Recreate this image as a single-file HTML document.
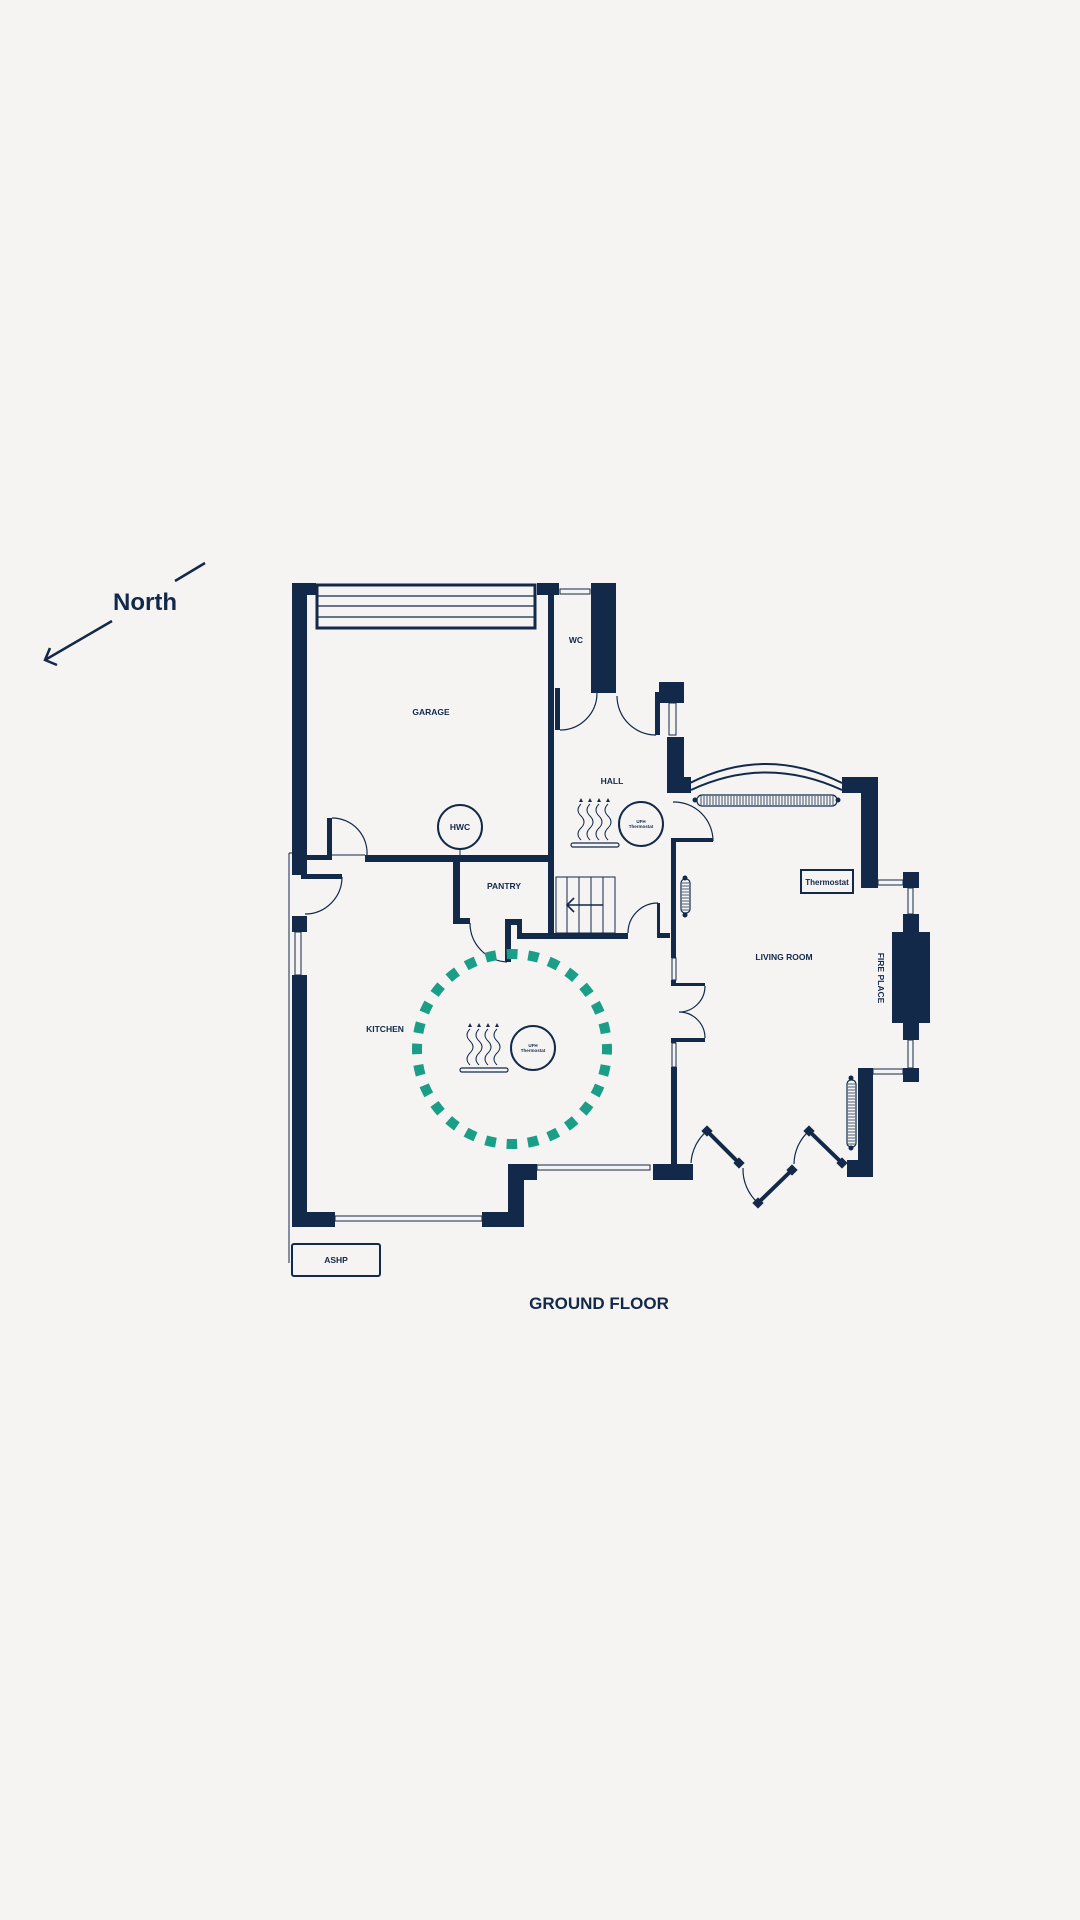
<!DOCTYPE html>
<html><head><meta charset="utf-8"><style>
html,body{margin:0;padding:0;background:#f5f4f3;}
svg{display:block}
text{font-family:"Liberation Sans",sans-serif;fill:#12294a;font-weight:bold}
</style></head><body>
<svg width="1080" height="1920" viewBox="0 0 1080 1920" xmlns="http://www.w3.org/2000/svg">
<rect width="1080" height="1920" fill="#f5f4f3"/>
<g fill="#12294a" stroke="none">
<rect x="292" y="583" width="15" height="292"/>
<rect x="292" y="583" width="24" height="12"/>
<rect x="537" y="583" width="22" height="12"/>
<rect x="591" y="583" width="25" height="110"/>
<rect x="548" y="595" width="6" height="340"/>
<rect x="555" y="688" width="5" height="42"/>
<rect x="365" y="855" width="189" height="7"/>
<rect x="307" y="855" width="23" height="5"/>
<rect x="327" y="818" width="5" height="42"/>
<rect x="301" y="874" width="41" height="5"/>
<rect x="292" y="916" width="15" height="16"/>
<rect x="292" y="975" width="15" height="252"/>
<rect x="453" y="858" width="7" height="65"/>
<rect x="453" y="918" width="17" height="6"/>
<rect x="505" y="919" width="6" height="43"/>
<rect x="505" y="919" width="17" height="6"/>
<rect x="517" y="919" width="5" height="20"/>
<rect x="517" y="933" width="111" height="6"/>
<rect x="657" y="903" width="3" height="30"/>
<rect x="657" y="933" width="13" height="5"/>
<rect x="659" y="682" width="25" height="21"/>
<rect x="655" y="692" width="5" height="43"/>
<rect x="667" y="737" width="17" height="56"/>
<rect x="684" y="777" width="7" height="16"/>
<rect x="671" y="838" width="5" height="120"/>
<rect x="676" y="838" width="37" height="4"/>
<rect x="671" y="980" width="5" height="6"/>
<rect x="676" y="983" width="29" height="3"/>
<rect x="676" y="1038" width="29" height="4"/>
<rect x="671" y="1038" width="5" height="5"/>
<rect x="671" y="1067" width="6" height="100"/>
<rect x="653" y="1164" width="40" height="16"/>
<rect x="842" y="777" width="19" height="16"/>
<rect x="861" y="777" width="17" height="111"/>
<rect x="903" y="872" width="16" height="16"/>
<rect x="903" y="914" width="16" height="18"/>
<rect x="892" y="932" width="38" height="91"/>
<rect x="903" y="1023" width="16" height="17"/>
<rect x="903" y="1068" width="16" height="14"/>
<rect x="858" y="1068" width="15" height="100"/>
<rect x="847" y="1160" width="26" height="17"/>
<rect x="508" y="1164" width="29" height="16"/>
<rect x="508" y="1164" width="16" height="63"/>
<rect x="482" y="1212" width="42" height="15"/>
<rect x="292" y="1212" width="43" height="15"/>
</g>
<g fill="none" stroke="#12294a">
<rect x="317" y="585" width="218" height="43" stroke-width="3"/>
<line x1="318" y1="596" x2="534" y2="596" stroke-width="1.2"/>
<line x1="318" y1="606" x2="534" y2="606" stroke-width="1.2"/>
<line x1="318" y1="617" x2="534" y2="617" stroke-width="1.2"/>
<rect x="560" y="589" width="30" height="5" stroke-width="1"/>
<rect x="669" y="703" width="7" height="32" stroke-width="1"/>
<rect x="295" y="932" width="6" height="43" stroke-width="1"/>
<rect x="672" y="958" width="4" height="22" stroke-width="1"/>
<rect x="672" y="1043" width="4" height="24" stroke-width="1"/>
<rect x="878" y="880" width="25" height="5" stroke-width="1"/>
<rect x="908" y="888" width="5" height="26" stroke-width="1"/>
<rect x="908" y="1040" width="5" height="28" stroke-width="1"/>
<rect x="873" y="1069" width="30" height="5" stroke-width="1"/>
<rect x="537" y="1165" width="113" height="5" stroke-width="1"/>
<rect x="335" y="1216" width="147" height="5" stroke-width="1"/>
<line x1="289" y1="853" x2="289" y2="1263" stroke-width="1"/>
<line x1="289" y1="853" x2="307" y2="853" stroke-width="1"/>
<line x1="332" y1="855" x2="365" y2="855" stroke-width="1"/>
<path d="M560 730 A37 37 0 0 0 597 693" stroke-width="1.2"/>
<path d="M617 696 A39 39 0 0 0 656 735" stroke-width="1.2"/>
<path d="M332 818 A35 35 0 0 1 367 855" stroke-width="1.2"/>
<path d="M342 877 A37 37 0 0 1 305 914" stroke-width="1.2"/>
<path d="M470 923 A39 39 0 0 0 507 962" stroke-width="1.2"/>
<path d="M628 933 A30 30 0 0 1 658 903" stroke-width="1.2"/>
<path d="M673 802 A39 39 0 0 1 713 841" stroke-width="1.2"/>
<path d="M705 986 A26 26 0 0 1 679 1012 A26 26 0 0 1 705 1038" stroke-width="1.2"/>
<path d="M691 1163 A45 45 0 0 1 707 1131" stroke-width="1.2"/>
<path d="M743 1168 A45 45 0 0 0 758 1203" stroke-width="1.2"/>
<path d="M794 1164 A45 45 0 0 1 809 1131" stroke-width="1.2"/>
<path d="M690 783 Q766 745 842 783" stroke-width="2"/>
<path d="M691 790 Q766 755 842 790" stroke-width="2"/>
<rect x="556" y="877" width="59" height="56" stroke-width="1"/>
<line x1="567" y1="877" x2="567" y2="933" stroke-width="1"/>
<line x1="579" y1="877" x2="579" y2="933" stroke-width="1"/>
<line x1="591" y1="877" x2="591" y2="933" stroke-width="1"/>
<line x1="603" y1="877" x2="603" y2="933" stroke-width="1"/>
<path d="M567 905 L603 905 M574 898 L567 905 L574 912" stroke-width="1.6" fill="#f5f4f3"/>
<circle cx="460" cy="827" r="22" stroke-width="2"/>
<line x1="460" y1="849" x2="460" y2="855" stroke-width="1"/>
<circle cx="641" cy="824" r="22" stroke-width="2"/>
<circle cx="533" cy="1048" r="22" stroke-width="2"/>
<rect x="801" y="870" width="52" height="23" stroke-width="2"/>
<rect x="292" y="1244" width="88" height="32" rx="2" stroke-width="2"/>
<rect x="571" y="843" width="48" height="4" rx="2" stroke-width="1.2"/>
<path d="M581 840 q-6-6 0-12 q6-6 0-12 q-6-6 0-12 M590 840 q-6-6 0-12 q6-6 0-12 q-6-6 0-12 M599 840 q-6-6 0-12 q6-6 0-12 q-6-6 0-12 M608 840 q-6-6 0-12 q6-6 0-12 q-6-6 0-12" stroke-width="1"/>
<rect x="460" y="1068" width="48" height="4" rx="2" stroke-width="1.2"/>
<path d="M470 1065 q-6-6 0-12 q6-6 0-12 q-6-6 0-12 M479 1065 q-6-6 0-12 q6-6 0-12 q-6-6 0-12 M488 1065 q-6-6 0-12 q6-6 0-12 q-6-6 0-12 M497 1065 q-6-6 0-12 q6-6 0-12 q-6-6 0-12" stroke-width="1"/>
<rect x="697" y="795" width="140" height="11" rx="5" stroke-width="1.2"/>
<rect x="681" y="879" width="9" height="34" rx="4" stroke-width="1.2"/>
<rect x="847" y="1080" width="9" height="67" rx="4" stroke-width="1.2"/>
<line x1="707" y1="1131" x2="739" y2="1163" stroke-width="4"/>
<line x1="758" y1="1203" x2="792" y2="1170" stroke-width="4"/>
<line x1="809" y1="1131" x2="842" y2="1163" stroke-width="4"/>
<line x1="205" y1="563" x2="175" y2="581" stroke-width="2.5"/>
<line x1="112" y1="621" x2="45" y2="660" stroke-width="2.5"/>
<path d="M57 665 L45 660 L50 648" stroke-width="2.5"/>
<circle cx="512" cy="1049" r="95" stroke="#1a9e87" stroke-width="10" stroke-dasharray="10.5 10.8" transform="rotate(-93 512 1049)"/>
</g>
<g stroke="#12294a" stroke-width="0.8">
<path d="M701 796V805M704 796V805M707 796V805M710 796V805M713 796V805M716 796V805M719 796V805M722 796V805M725 796V805M728 796V805M731 796V805M734 796V805M737 796V805M740 796V805M743 796V805M746 796V805M749 796V805M752 796V805M755 796V805M758 796V805M761 796V805M764 796V805M767 796V805M770 796V805M773 796V805M776 796V805M779 796V805M782 796V805M785 796V805M788 796V805M791 796V805M794 796V805M797 796V805M800 796V805M803 796V805M806 796V805M809 796V805M812 796V805M815 796V805M818 796V805M821 796V805M824 796V805M827 796V805M830 796V805M833 796V805"/>
<path d="M682 883H689M682 886H689M682 889H689M682 892H689M682 895H689M682 898H689M682 901H689M682 904H689M682 907H689M682 910H689"/>
<path d="M848 1084H855M848 1087H855M848 1090H855M848 1093H855M848 1096H855M848 1099H855M848 1102H855M848 1105H855M848 1108H855M848 1111H855M848 1114H855M848 1117H855M848 1120H855M848 1123H855M848 1126H855M848 1129H855M848 1132H855M848 1135H855M848 1138H855M848 1141H855M848 1144H855"/>
</g>
<g fill="#12294a">
<circle cx="695" cy="800" r="2.5"/><circle cx="838" cy="800" r="2.5"/>
<circle cx="685" cy="878" r="2.5"/><circle cx="685" cy="915" r="2.5"/>
<circle cx="851" cy="1078" r="2.5"/><circle cx="851" cy="1148" r="2.5"/>
<rect x="703" y="1127" width="8" height="8" transform="rotate(45 707 1131)"/>
<rect x="735" y="1159" width="8" height="8" transform="rotate(45 739 1163)"/>
<rect x="754" y="1199" width="8" height="8" transform="rotate(45 758 1203)"/>
<rect x="788" y="1166" width="8" height="8" transform="rotate(45 792 1170)"/>
<rect x="805" y="1127" width="8" height="8" transform="rotate(45 809 1131)"/>
<rect x="838" y="1159" width="8" height="8" transform="rotate(45 842 1163)"/>
</g>
<text x="145" y="610" font-size="24" text-anchor="middle">North</text>
<text x="431" y="715" font-size="8.5" text-anchor="middle">GARAGE</text>
<text x="576" y="643" font-size="8.5" text-anchor="middle">WC</text>
<text x="612" y="784" font-size="8.5" text-anchor="middle">HALL</text>
<text x="460" y="830" font-size="8.5" text-anchor="middle">HWC</text>
<text x="504" y="889" font-size="8.5" text-anchor="middle">PANTRY</text>
<text x="385" y="1032" font-size="8.5" text-anchor="middle">KITCHEN</text>
<text x="784" y="960" font-size="8.5" text-anchor="middle">LIVING ROOM</text>
<text x="827" y="885" font-size="8" text-anchor="middle">Thermostat</text>
<text x="336" y="1263" font-size="8.5" text-anchor="middle">ASHP</text>
<text x="641" y="823" font-size="4.5" text-anchor="middle">UFH</text>
<text x="641" y="828" font-size="4.5" text-anchor="middle">Thermostat</text>
<text x="533" y="1047" font-size="4.5" text-anchor="middle">UFH</text>
<text x="533" y="1052" font-size="4.5" text-anchor="middle">Thermostat</text>
<text x="0" y="0" font-size="8.5" text-anchor="middle" transform="translate(878 978) rotate(90)">FIRE PLACE</text>
<text x="599" y="1309" font-size="17" text-anchor="middle">GROUND FLOOR</text>
<g fill="#12294a">
<path d="M579 802 l4 0 l-2 -4z M588 802 l4 0 l-2 -4z M597 802 l4 0 l-2 -4z M606 802 l4 0 l-2 -4z"/>
<path d="M468 1027 l4 0 l-2 -4z M477 1027 l4 0 l-2 -4z M486 1027 l4 0 l-2 -4z M495 1027 l4 0 l-2 -4z"/>
</g>
</svg>
</body></html>
